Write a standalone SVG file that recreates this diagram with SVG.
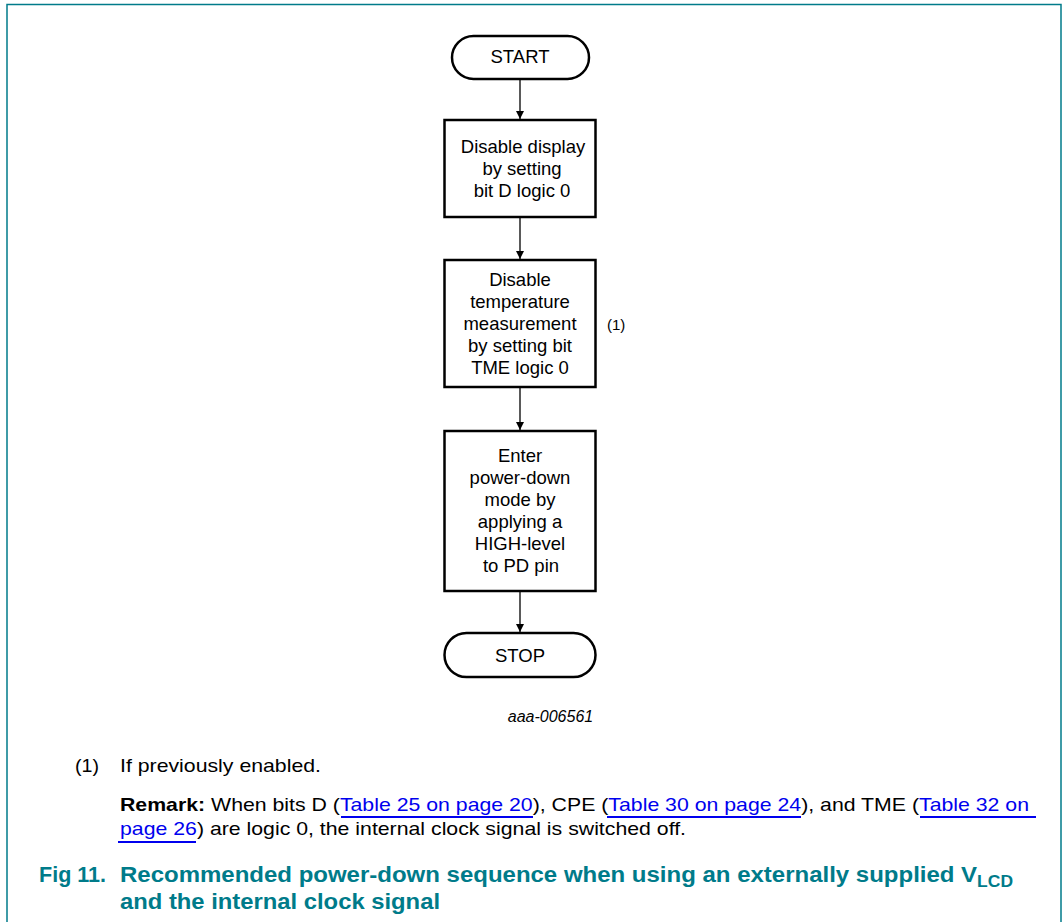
<svg xmlns="http://www.w3.org/2000/svg" width="1063" height="922" viewBox="0 0 1063 922">
<style>
.t{font-family:"Liberation Sans",Arial,sans-serif;font-size:18.5px;fill:#000;text-anchor:middle}
.n{font-family:"Liberation Sans",Arial,sans-serif;font-size:19px;fill:#000}
.lk{fill:#0000ee}
.ul{stroke:#0000ee;stroke-width:2}
.b{fill:#fff;stroke:#000;stroke-width:2.5}
.c{stroke:#000;stroke-width:1.3;fill:none}
.ti{font-family:"Liberation Sans",Arial,sans-serif;font-size:22px;font-weight:bold;fill:#007b8a}
</style>
<defs>
<marker id="ah" viewBox="0 0 10 10" refX="10" refY="5" markerWidth="8" markerHeight="8" markerUnits="userSpaceOnUse" orient="auto">
<path d="M0,0 L10,5 L0,10 z" fill="#000"/>
</marker>
</defs>
<rect width="1063" height="922" fill="#fff"/>
<path d="M7,922 V4.5 H1061 V922" fill="none" stroke="#007b8a" stroke-width="1.5"/>
<g id="connectors">
<line class="c" x1="520" y1="79" x2="520" y2="119" marker-end="url(#ah)"/>
<line class="c" x1="520" y1="217" x2="520" y2="259" marker-end="url(#ah)"/>
<line class="c" x1="520" y1="388" x2="520" y2="430" marker-end="url(#ah)"/>
<line class="c" x1="520" y1="592" x2="520" y2="632" marker-end="url(#ah)"/>
</g>
<g id="start">
<rect class="b" x="452" y="36" width="137" height="43" rx="21.5"/>
<text class="t" x="520" y="63">START</text>
</g>
<g id="step1">
<rect class="b" x="444.5" y="120" width="151" height="97"/>
<text class="t" x="523" y="153">Disable display</text>
<text class="t" x="522" y="175">by setting</text>
<text class="t" x="522" y="197">bit D logic 0</text>
</g>
<g id="step2">
<rect class="b" x="444.5" y="260" width="151" height="127"/>
<text class="t" x="520" y="286">Disable</text>
<text class="t" x="520" y="308">temperature</text>
<text class="t" x="520" y="330">measurement</text>
<text class="t" x="520" y="352">by setting bit</text>
<text class="t" x="520" y="374">TME logic 0</text>
</g>
<g id="note1">
<text x="607" y="330" style="font-family:'Liberation Sans',Arial,sans-serif;font-size:15px">(1)</text>
</g>
<g id="step3">
<rect class="b" x="444.5" y="431" width="151" height="160"/>
<text class="t" x="520" y="462">Enter</text>
<text class="t" x="520" y="484">power-down</text>
<text class="t" x="520" y="506">mode by</text>
<text class="t" x="520" y="528">applying a</text>
<text class="t" x="520" y="550">HIGH-level</text>
<text class="t" x="521" y="572">to PD pin</text>
</g>
<g id="stop">
<rect class="b" x="444.5" y="633" width="151" height="44" rx="22"/>
<text class="t" x="520" y="662">STOP</text>
</g>
<text x="550.5" y="722" style="font-family:'Liberation Sans',Arial,sans-serif;font-size:16px;font-style:italic;text-anchor:middle">aaa-006561</text>
<text class="n" x="75" y="772" textLength="24" lengthAdjust="spacingAndGlyphs">(1)</text>
<text class="n" x="120" y="772" textLength="201" lengthAdjust="spacingAndGlyphs">If previously enabled.</text>
<text class="n" x="120" y="811" textLength="909" lengthAdjust="spacingAndGlyphs"><tspan font-weight="bold">Remark:</tspan> When bits D (<tspan class="lk">Table 25 on page 20</tspan>), CPE (<tspan class="lk">Table 30 on page 24</tspan>), and TME (<tspan class="lk">Table 32 on</tspan></text>
<text class="n" x="120" y="835" textLength="566" lengthAdjust="spacingAndGlyphs"><tspan class="lk">page 26</tspan>) are logic 0, the internal clock signal is switched off.</text>
<line class="ul" x1="341" y1="817" x2="533" y2="817"/>
<line class="ul" x1="607" y1="817" x2="801" y2="817"/>
<line class="ul" x1="920" y1="817" x2="1036" y2="817"/>
<line class="ul" x1="118" y1="842" x2="196" y2="842"/>
<text class="ti" x="39" y="882" textLength="67" lengthAdjust="spacingAndGlyphs">Fig 11.</text>
<text class="ti" x="120" y="882" textLength="893" lengthAdjust="spacingAndGlyphs">Recommended power-down sequence when using an externally supplied V<tspan font-size="16" dy="5">LCD</tspan></text>
<text class="ti" x="120" y="909" textLength="320" lengthAdjust="spacingAndGlyphs">and the internal clock signal</text>
</svg>
